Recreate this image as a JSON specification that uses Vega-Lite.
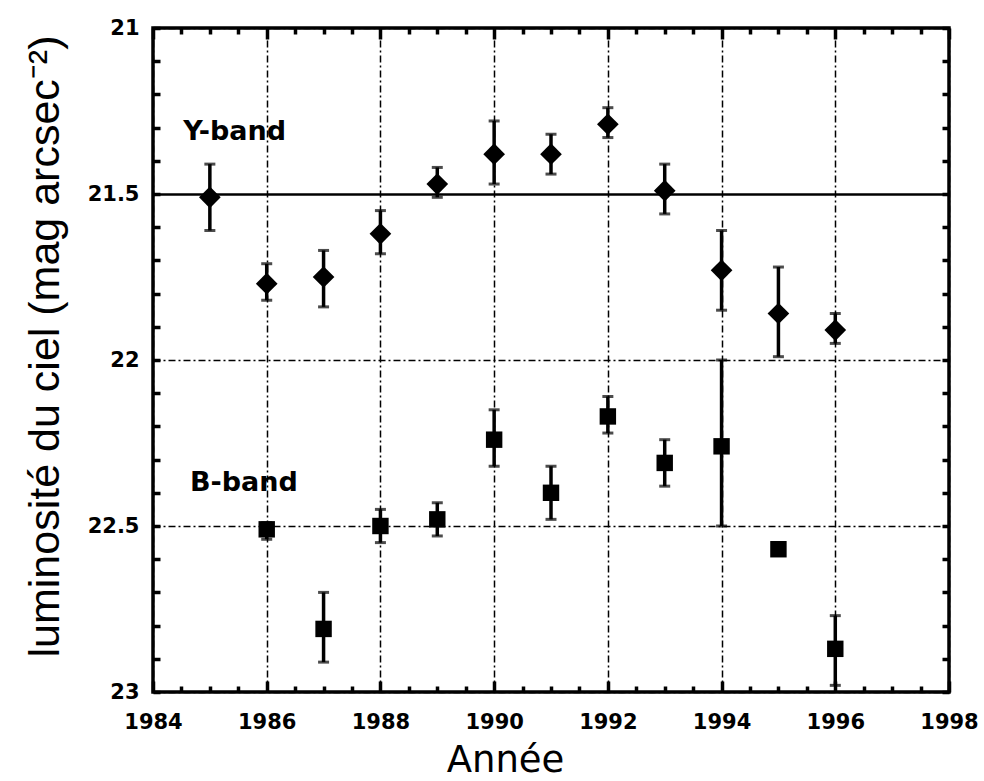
{
  "$schema": "https://vega.github.io/schema/vega-lite/v6.json",
  "width": 796,
  "height": 664,
  "autosize": {"type": "none"},
  "padding": {"left": 153, "top": 28, "right": 35, "bottom": 89},
  "background": "white",
  "config": {
    "view": {"stroke": "black", "strokeWidth": 3.5},
    "axis": {
      "domain": false,
      "labelFont": "DejaVu Sans",
      "labelFontWeight": "bold",
      "labelFontSize": 21,
      "labelColor": "black",
      "tickColor": "black",
      "gridColor": "black",
      "titleColor": "black"
    }
  },
  "data": {
    "values": [
      {"year": 1985, "band": "Y-band", "mag": 21.51, "lo": 21.41, "hi": 21.61},
      {"year": 1986, "band": "Y-band", "mag": 21.77, "lo": 21.71, "hi": 21.82},
      {"year": 1987, "band": "Y-band", "mag": 21.75, "lo": 21.67, "hi": 21.84},
      {"year": 1988, "band": "Y-band", "mag": 21.62, "lo": 21.55, "hi": 21.68},
      {"year": 1989, "band": "Y-band", "mag": 21.47, "lo": 21.42, "hi": 21.51},
      {"year": 1990, "band": "Y-band", "mag": 21.38, "lo": 21.28, "hi": 21.47},
      {"year": 1991, "band": "Y-band", "mag": 21.38, "lo": 21.32, "hi": 21.44},
      {"year": 1992, "band": "Y-band", "mag": 21.29, "lo": 21.24, "hi": 21.33},
      {"year": 1993, "band": "Y-band", "mag": 21.49, "lo": 21.41, "hi": 21.56},
      {"year": 1994, "band": "Y-band", "mag": 21.73, "lo": 21.61, "hi": 21.85},
      {"year": 1995, "band": "Y-band", "mag": 21.86, "lo": 21.72, "hi": 21.99},
      {"year": 1996, "band": "Y-band", "mag": 21.91, "lo": 21.86, "hi": 21.95},
      {"year": 1986, "band": "B-band", "mag": 22.51, "lo": 22.49, "hi": 22.54},
      {"year": 1987, "band": "B-band", "mag": 22.81, "lo": 22.70, "hi": 22.91},
      {"year": 1988, "band": "B-band", "mag": 22.50, "lo": 22.45, "hi": 22.55},
      {"year": 1989, "band": "B-band", "mag": 22.48, "lo": 22.43, "hi": 22.53},
      {"year": 1990, "band": "B-band", "mag": 22.24, "lo": 22.15, "hi": 22.32},
      {"year": 1991, "band": "B-band", "mag": 22.40, "lo": 22.32, "hi": 22.48},
      {"year": 1992, "band": "B-band", "mag": 22.17, "lo": 22.11, "hi": 22.22},
      {"year": 1993, "band": "B-band", "mag": 22.31, "lo": 22.24, "hi": 22.38},
      {"year": 1994, "band": "B-band", "mag": 22.26, "lo": 22.00, "hi": 22.50},
      {"year": 1995, "band": "B-band", "mag": 22.57, "lo": null, "hi": null},
      {"year": 1996, "band": "B-band", "mag": 22.87, "lo": 22.77, "hi": 22.98}
    ]
  },
  "layer": [
    {
      "transform": [{"filter": "datum.lo != null"}],
      "mark": {"type": "rule", "color": "black", "strokeWidth": 3.5},
      "encoding": {
        "x": {
          "field": "year", "type": "quantitative",
          "scale": {"domain": [1984, 1998], "nice": false, "zero": false},
          "axis": {
            "orient": "bottom",
            "values": [1984, 1986, 1988, 1990, 1992, 1994, 1996, 1998],
            "format": "d",
            "ticks": false,
            "labelPadding": 19,
            "labelFlush": false,
            "grid": true,
            "gridDash": [7, 3, 2, 3],
            "gridWidth": 1.5,
            "title": "Année",
            "titleFont": "DejaVu Sans",
            "titleFontSize": 37,
            "titleFontWeight": "normal",
            "titleX": 352,
            "titleY": 68,
            "titleBaseline": "middle",
            "titleAlign": "center"
          }
        },
        "y": {
          "field": "lo", "type": "quantitative",
          "scale": {"domain": [21, 23], "reverse": true, "nice": false, "zero": false},
          "axis": {
            "orient": "left",
            "values": [21, 21.5, 22, 22.5, 23],
            "format": "~g",
            "ticks": false,
            "labelPadding": 14,
            "labelFlush": false,
            "grid": true,
            "gridDash": {"condition": {"test": "datum.value === 21.5", "value": []}, "value": [7, 3, 2, 3]},
            "gridWidth": {"condition": {"test": "datum.value === 21.5", "value": 2.5}, "value": 1.5},
            "title": "luminosité du ciel (mag arcsec⁻²)",
            "titleFont": "Liberation Sans",
            "titleFontSize": 43,
            "titleFontWeight": "normal",
            "titleAngle": -90,
            "titleX": -108,
            "titleY": 318,
            "titleBaseline": "middle",
            "titleAlign": "center"
          }
        },
        "y2": {"field": "hi"}
      }
    },
    {
      "transform": [{"filter": "datum.lo != null"}],
      "mark": {"type": "tick", "orient": "horizontal", "color": "black", "size": 11, "thickness": 3},
      "encoding": {
        "x": {
          "field": "year", "type": "quantitative",
          "axis": {
            "orient": "bottom",
            "values": [1984, 1986, 1988, 1990, 1992, 1994, 1996, 1998],
            "labels": false, "grid": false,
            "tickSize": -11, "tickWidth": 3.5, "title": null
          }
        },
        "y": {
          "field": "lo", "type": "quantitative",
          "axis": {
            "orient": "left",
            "values": [21, 21.1, 21.2, 21.3, 21.4, 21.5, 21.6, 21.7, 21.8, 21.9, 22, 22.1, 22.2, 22.3, 22.4, 22.5, 22.6, 22.7, 22.8, 22.9, 23],
            "labels": false, "grid": false,
            "tickSize": -7, "tickWidth": 3.5, "title": null
          }
        }
      }
    },
    {
      "transform": [{"filter": "datum.lo != null"}],
      "mark": {"type": "tick", "orient": "horizontal", "color": "black", "size": 11, "thickness": 3},
      "encoding": {
        "x": {
          "field": "year", "type": "quantitative",
          "axis": {
            "orient": "bottom",
            "values": [1984.5, 1985, 1985.5, 1986.5, 1987, 1987.5, 1988.5, 1989, 1989.5, 1990.5, 1991, 1991.5, 1992.5, 1993, 1993.5, 1994.5, 1995, 1995.5, 1996.5, 1997, 1997.5],
            "labels": false, "grid": false,
            "tickSize": -6, "tickWidth": 3.5, "title": null
          }
        },
        "y": {
          "field": "hi", "type": "quantitative",
          "axis": {
            "orient": "right",
            "values": [21, 21.1, 21.2, 21.3, 21.4, 21.5, 21.6, 21.7, 21.8, 21.9, 22, 22.1, 22.2, 22.3, 22.4, 22.5, 22.6, 22.7, 22.8, 22.9, 23],
            "labels": false, "grid": false,
            "tickSize": -7, "tickWidth": 3.5, "title": null
          }
        }
      }
    },
    {
      "mark": {"type": "point", "filled": true, "color": "black", "opacity": 1},
      "encoding": {
        "x": {
          "field": "year", "type": "quantitative",
          "axis": {
            "orient": "top",
            "values": [1984, 1986, 1988, 1990, 1992, 1994, 1996, 1998],
            "labels": false, "grid": false,
            "tickSize": -11, "tickWidth": 3.5, "title": null
          }
        },
        "y": {
          "field": "mag", "type": "quantitative",
          "axis": null
        },
        "shape": {
          "field": "band", "type": "nominal",
          "scale": {"domain": ["Y-band", "B-band"], "range": ["diamond", "square"]},
          "legend": null
        },
        "size": {
          "field": "band", "type": "nominal",
          "scale": {"domain": ["Y-band", "B-band"], "range": [470, 270]},
          "legend": null
        }
      }
    },
    {
      "data": {
        "values": [
          {"label": "Y-band", "lx": 1984.53, "ly": 21.313},
          {"label": "B-band", "lx": 1984.65, "ly": 22.37}
        ]
      },
      "mark": {"type": "text", "align": "left", "baseline": "middle", "font": "DejaVu Sans", "fontWeight": "bold", "fontSize": 27, "color": "black"},
      "encoding": {
        "x": {
          "field": "lx", "type": "quantitative",
          "axis": {
            "orient": "top",
            "values": [1984.5, 1985, 1985.5, 1986.5, 1987, 1987.5, 1988.5, 1989, 1989.5, 1990.5, 1991, 1991.5, 1992.5, 1993, 1993.5, 1994.5, 1995, 1995.5, 1996.5, 1997, 1997.5],
            "labels": false, "grid": false,
            "tickSize": -6, "tickWidth": 3.5, "title": null
          }
        },
        "y": {"field": "ly", "type": "quantitative", "axis": null},
        "text": {"field": "label"}
      }
    }
  ],
  "resolve": {"axis": {"x": "independent", "y": "independent"}}
}
